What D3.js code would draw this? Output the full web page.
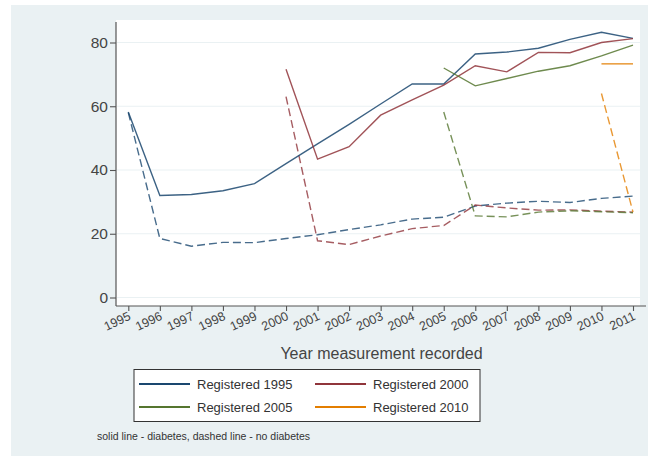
<!DOCTYPE html>
<html>
<head>
<meta charset="utf-8">
<script src="https://cdn.jsdelivr.net/npm/d3@7"></script>
<style>
  html, body { margin: 0; padding: 0; background: #ffffff; }
  svg { display: block; font-family: "Liberation Sans", Arial, sans-serif; }
</style>
</head>
<body>
<svg id="chart" width="648" height="459"></svg>
<script>
// Years of measurement
const years = [1995, 1996, 1997, 1998, 1999, 2000, 2001, 2002, 2003, 2004, 2005, 2006, 2007, 2008, 2009, 2010, 2011];

// Cohort start years and legend labels
const cohorts = [1995, 2000, 2005, 2010];
const cohortLabels = ["Registered 1995", "Registered 2000", "Registered 2005", "Registered 2010"];

// Solid lines: with diabetes (values from the cohort's registration year onward)
const diab1995 = [58.2, 32.0, 32.3, 33.5, 35.7, 42.0, 48.2, 54.3, 60.7, 67.0, 67.0, 76.4, 77.0, 78.2, 81.0, 83.2, 81.3];
const diab2000 = [71.6, 43.4, 47.3, 57.2, 62.0, 66.6, 72.7, 70.8, 76.9, 76.8, 80.0, 81.2];
const diab2005 = [72.0, 66.4, 68.7, 71.0, 72.7, 75.8, 79.2];
const diab2010 = [73.3, 73.3];

// Dashed lines: without diabetes
const nodiab1995 = [58.0, 18.5, 16.1, 17.3, 17.2, 18.5, 19.7, 21.3, 22.8, 24.6, 25.2, 28.7, 29.6, 30.2, 29.8, 31.1, 31.8];
const nodiab2000 = [63.0, 17.8, 16.6, 19.3, 21.6, 22.6, 29.0, 28.1, 27.4, 27.5, 27.1, 26.8];
const nodiab2005 = [58.2, 25.6, 25.3, 26.8, 27.2, 26.9, 26.6];
const nodiab2010 = [64.0, 26.8];

const yTicks = [0, 20, 40, 60, 80];
const axisTitle = "Year measurement recorded";
const noteText = "solid line - diabetes, dashed line - no diabetes";

const colors = ["#1a476f", "#90353b", "#55752f", "#e37e00"];
const solidSeries = [diab1995, diab2000, diab2005, diab2010];
const dashedSeries = [nodiab1995, nodiab2000, nodiab2005, nodiab2010];

const svg = d3.select("#chart");

// Graph background
svg.append("rect").attr("x", 11).attr("y", 5).attr("width", 637).attr("height", 451).attr("fill", "#eaf1f3");

// Plot region
const plotLeft = 116, plotRight = 640, plotTop = 20, plotBottom = 306;
svg.append("rect")
  .attr("x", plotLeft).attr("y", plotTop)
  .attr("width", plotRight - plotLeft).attr("height", plotBottom - plotTop)
  .attr("fill", "#ffffff");

const x = d3.scaleLinear().domain([1995, 2011]).range([128.3, 633]);
const y = d3.scaleLinear().domain([0, 80]).range([297.5, 42.5]);

// Horizontal grid lines
svg.append("g").selectAll("line").data(yTicks).join("line")
  .attr("x1", plotLeft + 1).attr("x2", plotRight)
  .attr("y1", d => y(d)).attr("y2", d => y(d))
  .attr("stroke", "#eaf1f3").attr("stroke-width", 1.2);

// Y axis
const yAxis = svg.append("g").attr("transform", `translate(${plotLeft},0)`)
  .call(d3.axisLeft(y).tickValues(yTicks).tickSize(6).tickPadding(2).tickFormat(d3.format("d")));
yAxis.select(".domain").remove();
yAxis.append("line").attr("x1", 0).attr("x2", 0).attr("y1", plotTop + 2).attr("y2", plotBottom).attr("stroke", "#555").attr("stroke-width", 1.2);
yAxis.selectAll(".tick line").attr("stroke", "#555").attr("stroke-width", 1.1);
yAxis.selectAll(".tick text").attr("fill", "#444").attr("font-size", 15.5).attr("font-family", "Liberation Sans, Arial, sans-serif");

// X axis
const xAxis = svg.append("g").attr("transform", `translate(0,${plotBottom})`)
  .call(d3.axisBottom(x).tickValues(years).tickSize(5).tickFormat(d3.format("d")));
xAxis.select(".domain").remove();
xAxis.append("line").attr("x1", plotLeft).attr("x2", 646).attr("y1", 0).attr("y2", 0).attr("stroke", "#555").attr("stroke-width", 1.2);
xAxis.selectAll(".tick line").attr("stroke", "#555").attr("stroke-width", 1.1);
xAxis.selectAll(".tick text")
  .attr("fill", "#444").attr("font-size", 12.5).attr("font-family", "Liberation Sans, Arial, sans-serif")
  .attr("text-anchor", "end")
  .attr("x", 0).attr("y", 0).attr("dy", "0.72em")
  .attr("transform", "translate(-1,5) rotate(-25)");

// Axis title
svg.append("text").attr("x", 381.5).attr("y", 359).attr("text-anchor", "middle")
  .attr("font-size", 16).attr("fill", "#444").text(axisTitle);

// Series lines
const line = d3.line().x(d => x(d.year)).y(d => y(d.value));
function seriesPoints(start, values) {
  const startIndex = years.indexOf(start);
  return values.map((v, i) => ({ year: years[startIndex + i], value: v }));
}

const lines = svg.append("g");
cohorts.forEach((c, i) => {
  lines.append("path")
    .datum(seriesPoints(c, dashedSeries[i]))
    .attr("d", line).attr("fill", "none")
    .attr("stroke", colors[i]).attr("stroke-width", 1.4).attr("stroke-opacity", 0.8)
    .attr("stroke-dasharray", "8,4");
});
cohorts.forEach((c, i) => {
  lines.append("path")
    .datum(seriesPoints(c, solidSeries[i]))
    .attr("d", line).attr("fill", "none")
    .attr("stroke", colors[i]).attr("stroke-width", 1.4).attr("stroke-opacity", 0.85);
});

// Legend
const legend = svg.append("g");
legend.append("rect").attr("x", 134).attr("y", 369.5).attr("width", 346).attr("height", 52)
  .attr("fill", "#ffffff").attr("stroke", "#333").attr("stroke-width", 1);
const legendCols = [139, 315];
const legendRows = [384, 407];
cohortLabels.forEach((label, i) => {
  const lx = legendCols[i % 2], ly = legendRows[Math.floor(i / 2)];
  legend.append("line").attr("x1", lx).attr("x2", lx + 51).attr("y1", ly).attr("y2", ly)
    .attr("stroke", colors[i]).attr("stroke-width", 2);
  legend.append("text").attr("x", lx + 58).attr("y", ly + 4.5)
    .attr("font-size", 13).attr("fill", "#333").text(label);
});

// Note
svg.append("text").attr("x", 97).attr("y", 440).attr("font-size", 10)
  .attr("textLength", 213).attr("lengthAdjust", "spacingAndGlyphs")
  .attr("fill", "#333").text(noteText);
</script>
</body>
</html>
